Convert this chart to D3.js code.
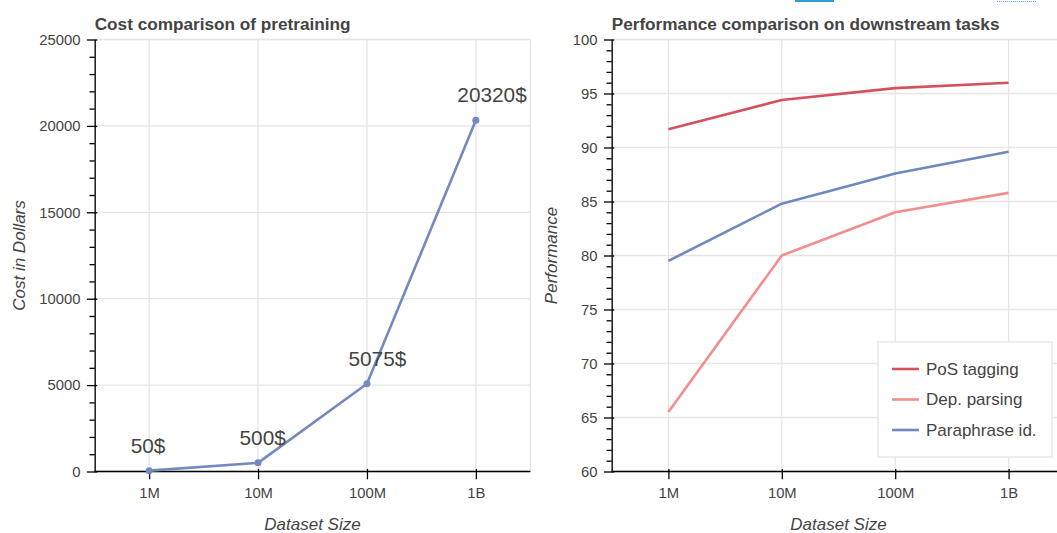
<!DOCTYPE html>
<html>
<head>
<meta charset="utf-8">
<script src="https://cdn.jsdelivr.net/npm/d3@7"></script>
<style>
  body { margin: 0; background: #fff; }
  svg { display: block; font-family: Helvetica, Arial, "Liberation Sans", sans-serif; }
</style>
</head>
<body>
<svg id="chart"></svg>
<script>
// data
const sizes = ["1M", "10M", "100M", "1B"];
const costs = [50, 500, 5075, 20320];
const costLabels = ["50$", "500$", "5075$", "20320$"];
const costTicks = [0, 5000, 10000, 15000, 20000, 25000];

const tasks = ["PoS tagging", "Dep. parsing", "Paraphrase id."];
const posTagging = [91.7, 94.4, 95.5, 96.0];
const depParsing = [65.5, 80.0, 84.0, 85.8];
const paraphraseId = [79.5, 84.8, 87.6, 89.6];
const perfTicks = [60, 65, 70, 75, 80, 85, 90, 95, 100];

const taskColors = ["#d6515e", "#f28e8b", "#7188bf"];
const costColor = "#7489bf";

const width = 1057, height = 533;
const plotTop = 39.5, plotBottom = 471.5;
const textColor = "#444";
const gridColor = "#e5e5e5";
const tickFont = "14.8px";

const svg = d3.select("#chart").attr("width", width).attr("height", height);

// toolbar leftovers at the very top of the screenshot
svg.append("rect").attr("x", 795).attr("y", 0).attr("width", 39).attr("height", 2).attr("fill", "#2e9fd9");
svg.append("line").attr("x1", 997).attr("x2", 1037).attr("y1", 1.5).attr("y2", 1.5)
  .attr("stroke", "#5aaee0").attr("stroke-width", 1).attr("stroke-dasharray", "1,1");

function panel(opts) {
  const { x0, x1, yDomain, yTicks, minorStep, title, yLabel, yLabelX } = opts;

  const x = d3.scalePoint().domain(sizes).range([x0, x1]).padding(0.5);
  const y = d3.scaleLinear().domain(yDomain).range([plotBottom, plotTop]);

  const g = svg.append("g");

  // outline
  g.append("rect")
    .attr("x", x0).attr("y", plotTop)
    .attr("width", x1 - x0).attr("height", plotBottom - plotTop)
    .attr("fill", "none").attr("stroke", gridColor).attr("stroke-width", 1.3);

  // grid
  g.selectAll(".vgrid").data(sizes).enter().append("line")
    .attr("x1", (d) => x(d)).attr("x2", (d) => x(d))
    .attr("y1", plotTop).attr("y2", plotBottom)
    .attr("stroke", gridColor).attr("stroke-width", 1.3);
  g.selectAll(".hgrid").data(yTicks).enter().append("line")
    .attr("x1", x0).attr("x2", x1)
    .attr("y1", (d) => y(d)).attr("y2", (d) => y(d))
    .attr("stroke", gridColor).attr("stroke-width", 1.3);

  // minor y ticks
  const minor = d3.range(yDomain[0], yDomain[1] + 1e-9, minorStep)
    .filter((v) => !yTicks.includes(v));
  g.append("g")
    .attr("transform", `translate(${x0},0)`)
    .call(d3.axisLeft(y).tickValues(minor).tickSize(5.2).tickFormat(""))
    .call((a) => a.select(".domain").remove())
    .selectAll("line").attr("stroke", "#000").attr("stroke-width", 1.3);

  // major y axis
  const yAxis = g.append("g")
    .attr("transform", `translate(${x0},0)`)
    .call(d3.axisLeft(y).tickValues(yTicks).tickFormat(d3.format("d"))
      .tickSize(7.8).tickSizeOuter(0).tickPadding(6.5));
  yAxis.select(".domain").attr("stroke", "#000").attr("stroke-width", 1.3);
  yAxis.selectAll(".tick line").attr("x1", 2.6).attr("stroke", "#000").attr("stroke-width", 1.3);
  yAxis.selectAll("text").style("font-size", tickFont).attr("fill", textColor);

  // x axis
  const xAxis = g.append("g")
    .attr("transform", `translate(0,${plotBottom})`)
    .call(d3.axisBottom(x).tickSize(7.8).tickSizeOuter(0).tickPadding(8));
  xAxis.select(".domain").attr("d", `M${x0},0H${x1}`).attr("stroke", "#000").attr("stroke-width", 1.3);
  xAxis.selectAll(".tick line").attr("y1", -2.6).attr("stroke", "#000").attr("stroke-width", 1.3);
  xAxis.selectAll("text").style("font-size", tickFont).attr("fill", textColor);

  // title
  svg.append("text")
    .attr("x", x0).attr("y", 29.5)
    .style("font-size", "17.2px").style("font-weight", "bold")
    .attr("fill", textColor)
    .text(title);

  // axis labels
  svg.append("text")
    .attr("x", (x0 + x1) / 2).attr("y", 530)
    .attr("text-anchor", "middle")
    .style("font-size", "17px").style("font-style", "italic")
    .attr("fill", textColor)
    .text("Dataset Size");

  svg.append("text")
    .attr("transform", `translate(${yLabelX},${(plotTop + plotBottom) / 2}) rotate(-90)`)
    .attr("text-anchor", "middle")
    .style("font-size", "17px").style("font-style", "italic")
    .attr("fill", textColor)
    .text(yLabel);

  return { x, y, g };
}

// left: cost
const left = panel({
  x0: 94.7, x1: 530.3,
  yDomain: [0, 25000], yTicks: costTicks, minorStep: 1000,
  title: "Cost comparison of pretraining",
  yLabel: "Cost in Dollars", yLabelX: 25,
});

const costData = sizes.map((s, i) => ({ size: s, value: costs[i], label: costLabels[i] }));

left.g.append("path")
  .datum(costData)
  .attr("fill", "none")
  .attr("stroke", costColor)
  .attr("stroke-width", 2.6)
  .attr("stroke-linejoin", "round")
  .attr("d", d3.line().x((d) => left.x(d.size)).y((d) => left.y(d.value)));

left.g.selectAll("circle")
  .data(costData)
  .enter()
  .append("circle")
  .attr("cx", (d) => left.x(d.size))
  .attr("cy", (d) => left.y(d.value))
  .attr("r", 3.5)
  .attr("fill", costColor);

left.g.selectAll(".cost-label")
  .data(costData)
  .enter()
  .append("text")
  .attr("x", (d) => left.x(d.size) - 18.5)
  .attr("y", (d) => left.y(d.value) - 18)
  .style("font-size", "20.8px")
  .attr("fill", textColor)
  .text((d) => d.label);

// right: performance
const right = panel({
  x0: 611.7, x1: 1065.3,
  yDomain: [60, 100], yTicks: perfTicks, minorStep: 1,
  title: "Performance comparison on downstream tasks",
  yLabel: "Performance", yLabelX: 557,
});

const series = [posTagging, depParsing, paraphraseId];
const perfLine = d3.line().x((d, i) => right.x(sizes[i])).y((d) => right.y(d));

right.g.selectAll(".perf")
  .data(series)
  .enter()
  .append("path")
  .attr("fill", "none")
  .attr("stroke", (d, i) => taskColors[i])
  .attr("stroke-width", 2.6)
  .attr("stroke-linejoin", "round")
  .attr("d", perfLine);

// legend
const legend = svg.append("g").attr("transform", "translate(878,342)");
legend.append("rect")
  .attr("width", 174).attr("height", 115)
  .attr("fill", "#fff").attr("stroke", gridColor).attr("stroke-width", 1.3);

const items = legend.selectAll(".item")
  .data(tasks)
  .enter()
  .append("g")
  .attr("transform", (d, i) => `translate(0,${27 + i * 30.5})`);

items.append("line")
  .attr("x1", 14).attr("x2", 41)
  .attr("stroke", (d, i) => taskColors[i])
  .attr("stroke-width", 2.6);

items.append("text")
  .attr("x", 48)
  .attr("dy", "0.35em")
  .style("font-size", "17px")
  .attr("fill", textColor)
  .text((d) => d);
</script>
</body>
</html>
